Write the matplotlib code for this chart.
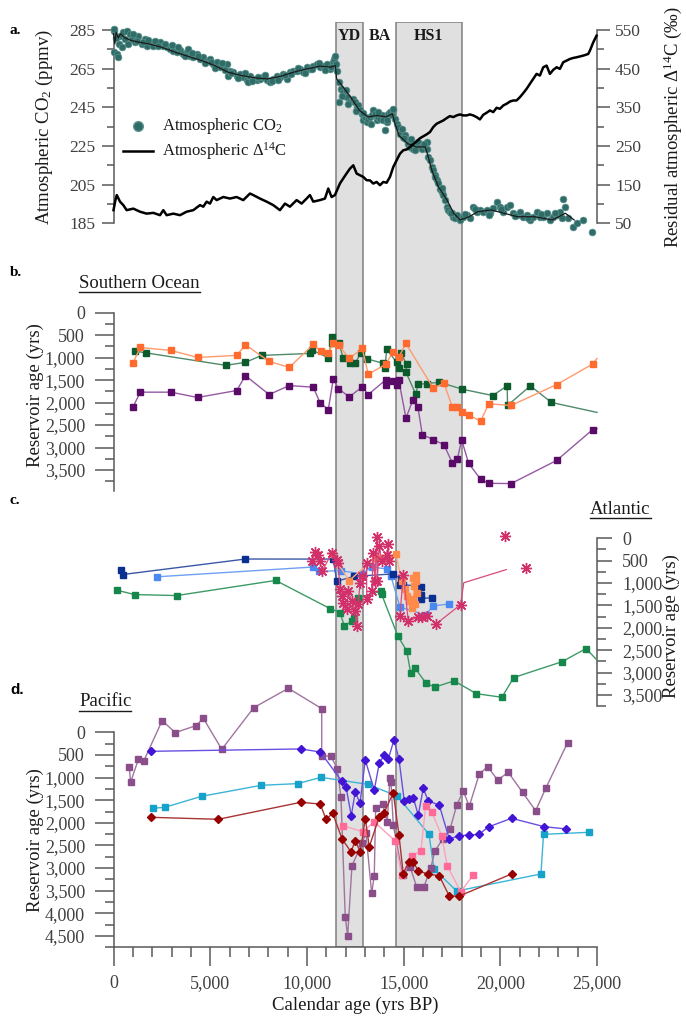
import matplotlib
matplotlib.use('Agg')
import matplotlib.pyplot as plt
from matplotlib.lines import Line2D
from matplotlib.ticker import FixedLocator, FuncFormatter

plt.rcParams['font.family'] = ['Liberation Serif', 'DejaVu Serif']
plt.rcParams['mathtext.fontset'] = 'custom'
plt.rcParams['mathtext.rm'] = 'Liberation Serif'
plt.rcParams['mathtext.it'] = 'Liberation Serif:italic'
plt.rcParams['mathtext.bf'] = 'Liberation Serif:bold'

# ---------------- DATA ----------------
# Panel a: atmospheric CO2 (ppmv) scatter
co2_x = [0, 26, 164, 250, 336, 508, 681, 853, 939, 1111, 1284, 1456, 1628, 1714, 1887, 2059, 2231, 2404,
         2576, 2748, 2920, 3093, 3265, 3437, 3610, 3782, 3868, 3954, 4127, 4299, 4471, 4643, 4816, 4988,
         5160, 5333, 5505, 5677, 5850, 5936, 6022, 6194, 6366, 6539, 6711, 6883, 6969, 7056, 7228, 7400,
         7573, 7745, 7917, 8089, 8262, 8434, 8606, 8779, 8951, 9123, 9296, 9468, 9640, 9812, 9985, 10157,
         10329, 10502, 10674, 10846, 11019, 11191, 11329, 11398, 11501, 11570, 11639, 11673, 11742, 11880,
         11966, 12087, 12225, 12313, 12399, 12485, 12572, 12658, 12744, 12830, 12916, 13002, 13089, 13175,
         13261, 13347, 13433, 13519, 13605, 13692, 13778, 13864, 13950, 14036, 14122, 14208, 14295, 14381,
         14467, 14553, 14639, 14725, 14812, 14898, 14984, 15070, 15156, 15242, 15328, 15415, 15501, 15587,
         15673, 15759, 15845, 15931, 16018, 16104, 16190, 16224, 16276, 16362, 16448, 16535, 16621, 16707,
         16793, 16879, 16965, 17051, 17138, 17224, 17310, 17396, 17482, 17568, 17654, 17741, 17913, 18085,
         18258, 18430, 18602, 18775, 18947, 19119, 19291, 19464, 19636, 19808, 19980, 20153, 20325, 20497,
         20670, 20842, 21014, 21187, 21359, 21531, 21703, 21876, 22048, 22220, 22393, 22565, 22737, 22909,
         23082, 23254, 23340, 23513, 23771, 23943, 24288, 24729,
         50, 120, 300, 420, 600, 760, 1000, 1200, 1550, 1800, 2150, 2300, 2650, 3000, 3350, 3700, 4050, 4380,
         4750, 5050, 5250, 5600, 5780, 6100, 6450, 6800, 7150, 7480, 7830, 8180, 8520, 8850, 9200, 9550,
         9900, 10250, 10600, 10950, 11250, 11450, 11800, 12000, 12150, 12520, 12900, 13300, 13700, 14150,
         14450, 15000, 15380, 15600, 16050, 16600, 17000, 17450, 18150, 18700, 19400, 20050, 20750, 21450,
         22100, 22850, 23200]
co2_y = [284.6, 273.5, 272.6, 270.9, 282.1, 283.8, 284.6, 282.9, 280.3, 278.6, 282.1, 277.8, 280.3, 276.9,
         278.6, 276.9, 277.8, 278.6, 276.9, 276.0, 275.2, 274.3, 273.5, 274.7, 272.6, 273.5, 275.2, 271.7,
         270.9, 272.6, 270.0, 270.9, 269.2, 270.0, 267.5, 268.3, 265.7, 266.6, 267.5, 261.4, 264.0, 263.2,
         261.4, 262.3, 260.6, 258.9, 258.0, 261.4, 259.7, 258.9, 259.7, 260.6, 258.9, 258.0, 259.7, 261.4,
         260.6, 262.3, 259.7, 263.2, 264.0, 264.0, 264.9, 263.2, 265.7, 264.9, 266.6, 267.5, 265.7, 266.6,
         267.5, 264.9, 268.3, 270.0, 267.5, 264.0, 258.0, 247.7, 254.6, 252.8, 251.1, 250.3, 248.5, 248.5,
         249.4, 247.7, 245.1, 246.0, 243.4, 241.7, 238.2, 239.9, 237.4, 239.1, 239.9, 240.8, 243.4, 241.7,
         238.2, 239.9, 239.1, 240.8, 238.2, 233.1, 237.4, 241.7, 242.5, 240.8, 243.4, 239.1, 236.5, 234.8,
         231.4, 233.9, 229.6, 230.5, 227.9, 226.2, 224.5, 226.2, 223.6, 225.3, 224.5, 227.1, 224.5, 223.6,
         225.3, 226.2, 227.1, 223.6, 219.3, 217.6, 214.2, 212.4, 209.9, 207.3, 205.6, 203.0, 201.3, 199.5,
         197.0, 193.5, 191.8, 191.0, 190.1, 188.4, 187.5, 189.2, 186.7, 188.4, 189.2, 187.5, 193.5, 191.0,
         191.8, 191.0, 191.8, 190.1, 192.7, 196.1, 193.5, 191.0, 193.5, 194.4, 190.1, 189.2, 191.0, 188.4,
         189.2, 186.7, 188.4, 191.0, 188.4, 188.4, 190.1, 186.7, 188.4, 189.2, 191.0, 197.8, 193.5, 187.5,
         183.2, 184.9, 186.7, 180.5,
         285.5, 281.0, 278.0, 276.0, 280.5, 278.0, 283.0, 279.5, 279.0, 280.0, 279.5, 276.5, 278.0, 277.0,
         276.0, 271.5, 273.0, 271.5, 268.0, 268.5, 265.5, 268.0, 264.5, 262.5, 260.0, 262.5, 258.5, 260.5,
         261.5, 258.5, 259.0, 261.5, 262.0, 265.5, 262.5, 265.0, 268.0, 264.5, 266.0, 271.5, 251.0, 254.0,
         246.5, 243.0, 242.0, 236.5, 242.5, 238.5, 244.0, 229.0, 228.5, 223.0, 226.0, 209.0, 203.5, 190.5,
         190.0, 192.5, 189.5, 192.5, 189.0, 187.5, 190.0, 190.5, 188.0]

# Panel a: CO2 running line
co2_line_x = [0, 68, 136, 249, 363, 589, 929, 1383, 1836, 2516, 3196, 3876, 4556, 5236, 5916, 6596, 7276,
              7956, 8636, 9316, 9996, 10676, 11242, 11469, 11537, 11809, 12262, 12715, 13169, 13622, 14076,
              14416, 14529, 14756, 15209, 15663, 16116, 16229, 16456, 16796, 17249, 17589, 17929, 18382,
              18836, 19516, 20196, 20876, 21782, 22689, 23369, 23822]
co2_line_y = [283.0, 277.8, 283.8, 281.0, 283.0, 281.0, 279.5, 278.6, 277.8, 276.0, 273.5, 271.3, 269.2,
              266.6, 263.2, 261.5, 260.3, 259.7, 261.0, 263.2, 264.9, 266.3, 265.8, 266.6, 259.7, 256.3,
              250.3, 243.4, 240.0, 240.8, 240.0, 241.7, 237.4, 230.5, 226.2, 224.5, 224.5, 221.0, 212.5,
              203.9, 197.0, 190.2, 186.7, 188.4, 191.0, 191.9, 190.2, 188.4, 188.4, 186.7, 190.2, 186.7]

# Panel a: residual atmospheric D14C (permil)
d14c_x = [0, 100, 170, 336, 508, 681, 1025, 1370, 1714, 2059, 2404, 2576, 2748, 3093, 3437, 3782, 4127,
          4471, 4643, 4816, 4988, 5160, 5333, 5677, 6022, 6366, 6711, 7056, 7228, 7573, 7917, 8262, 8606,
          8865, 9123, 9468, 9727, 9985, 10157, 10329, 10674, 10933, 11105, 11277, 11449, 11708, 12052,
          12227, 12399, 12572, 12744, 12916, 13089, 13261, 13433, 13605, 13778, 13950, 14122, 14295, 14467,
          14639, 14812, 14984, 15156, 15328, 15501, 15673, 15845, 16018, 16190, 16362, 16535, 16707, 16879,
          17051, 17224, 17396, 17568, 17741, 17913, 18085, 18258, 18430, 18602, 18775, 18947, 19119, 19291,
          19464, 19636, 19808, 19980, 20153, 20325, 20497, 20670, 20842, 21014, 21187, 21359, 21531, 21703,
          21876, 22048, 22220, 22393, 22565, 22737, 22909, 23082, 23254, 23426, 23599, 23771, 23943, 24288,
          24546, 24633, 24805, 24977]
d14c_y = [84, 110, 123, 106, 97, 84, 88, 80, 75, 77, 71, 84, 71, 75, 71, 80, 84, 97, 93, 106, 101, 118, 110,
          118, 114, 118, 110, 127, 123, 114, 106, 97, 84, 101, 93, 110, 101, 114, 123, 106, 110, 114, 140, 118,
          123, 153, 179, 191.5, 200, 178.6, 174.3, 170, 161.4, 161, 152.8, 157, 148.5, 157, 155, 170, 195.8,
          213, 230, 239, 241, 247, 255, 262, 270, 275, 280, 286, 299, 307.5, 311.8, 316, 322, 327.3, 324.7,
          329, 331.6, 329, 329, 331.6, 329, 324.7, 318.7, 330.7, 335.9, 341.9, 337.6, 348.8, 346.2, 354.8,
          359.1, 365, 367.7, 367.7, 376.3, 386.6, 397.8, 410.7, 423.6, 436.5, 432.2, 453.6, 458, 436.5, 446.8,
          453.6, 449.4, 466.6, 470.8, 475.1, 477.7, 479.4, 483.7, 488, 496.6, 518, 535.3]

# Panel b: Southern Ocean reservoir ages (yrs)
so_orange_x = [997, 1383, 2969, 4352, 6369, 6822, 8046, 9089, 10330, 10713, 11105, 11364, 11650, 12191,
               12863, 13173, 14072, 14434, 14745, 15122, 16534, 17087, 17516, 17775, 18002, 18364, 18984,
               19398, 20557, 22916, 24774, 25000]
so_orange_y = [1127, 774, 840, 995, 950, 715, 1083, 1216, 707, 855, 893, 685, 729, 1017, 796, 1370, 1149,
               884, 995, 685, 1680, 1569, 2093, 2093, 2203, 2270, 2418, 2027, 2063, 1599, 1142, 1017]
so_green_x = [1111, 1655, 5802, 6822, 7661, 10175, 10278, 11105, 11312, 11312, 11658, 11881, 12227, 12501,
              12780, 13090, 13948, 14036, 14124, 14641, 14745, 14864, 15158, 15122, 15624, 15758, 16192,
              16844, 18033, 19605, 20354, 20376, 21555, 22643, 25000]
so_green_y = [855, 892, 1171, 1105, 950, 906, 833, 1003, 539, 685, 672, 1017, 1114, 1127, 893, 1025, 1127,
              1238, 811, 1105, 1238, 906, 1149, 1326, 1806, 1591, 1578, 1547, 1702, 1843, 1628, 2063, 1628,
              1997, 2218]
so_purple_x = [997, 1383, 2969, 4352, 6369, 6822, 8046, 9089, 10330, 10676, 11105, 11364, 11622, 12191,
               12863, 13173, 14072, 14072, 14434, 14641, 14745, 15122, 15484, 15743, 15966, 16534, 17087,
               17516, 17775, 18002, 18364, 18984, 19398, 20557, 22916, 24774, 25000]
so_purple_y = [2107, 1768, 1768, 1886, 1731, 1400, 1820, 1621, 1658, 1998, 2159, 1474, 1688, 1872, 1651,
               1821, 1496, 1607, 1511, 1614, 1489, 2343, 1938, 2108, 2712, 2822, 2940, 3337, 3264, 2829,
               3353, 3706, 3795, 3802, 3286, 2601, 2580]

# Panel c: Atlantic reservoir ages (yrs)
at_green_x = [204, 1088, 3264, 8386, 11193, 11710, 11933, 12315, 12450, 12625, 13830, 13866, 14693, 15164,
              15368, 15594, 16161, 16614, 17611, 18768, 20082, 20694, 23188, 24434, 25000]
at_green_y = [1162, 1257, 1279, 941, 1569, 1658, 1953, 1856, 1783, 1326, 1180, 1253, 2175, 2515, 3015, 2904,
              3235, 3324, 3184, 3471, 3551, 3110, 2757, 2463, 2720]
at_navy_x = [363, 476, 6822, 11364, 11540, 12450, 14466, 14864, 14812, 14983, 15898, 15898, 15898, 16451]
at_navy_y = [713, 809, 463, 464, 959, 849, 796, 906, 1054, 1032, 1083, 1275, 1348, 1326]
at_lblue_x = [2244, 10330, 10640, 11762, 12832, 13349, 14124, 14347, 14812, 16156, 16503, 17361]
at_lblue_y = [860, 641, 738, 723, 796, 641, 685, 849, 1534, 1717, 1511, 1467]
at_orange_x = [11281, 12191, 13520, 13866, 14259, 14605, 14900, 15071, 15158, 15329, 15417, 15500, 15537,
               15500, 15588, 15640, 15640, 15674]
at_orange_y = [354, 944, 429, 429, 429, 354, 959, 1143, 1290, 1401, 1547, 1364, 1070, 884, 1474, 811, 959,
               1216]
at_star1_x = [10245, 10418, 10590, 10676, 10790, 11281, 11540, 11622, 11710, 11798, 11881, 12056, 12139,
              12315, 12486, 12573, 12656, 12744, 12832, 13090, 13090, 13349, 13432, 13520, 13607, 13638,
              13742, 13866, 14124, 14207, 14259]
at_star1_y = [517, 310, 369, 517, 735, 332, 480, 553, 1143, 1290, 1437, 1585, 1180, 1401, 1622, 1953, 1474,
              995, 849, 553, 1364, 1180, 332, 959, -35, 959, 170, 517, 369, 133, 517]
at_star2_x = [14812, 14983, 15241, 15758, 15934, 16192, 16673, 17950, 18110, 20309]
at_star2_y = [1732, 811, 1843, 1768, 1768, 1732, 1916, 1481, 993, 699]
at_star_iso_x = [20264, 21329]
at_star_iso_y = [-51, 662]

# Panel d: Pacific reservoir ages (yrs)
pa_mauve_x = [816, 884, 1292, 1564, 2516, 3196, 4262, 4646, 5598, 7253, 9043, 10766, 10766, 11245, 11571,
              11762, 11984, 12108, 12330, 12848, 13054, 13349, 13483, 13556, 13918, 14156, 14295, 14347,
              14466, 14952, 15329, 15676, 16053, 16399, 16622, 17020, 17398, 17744, 18085, 18395, 18912,
              19346, 19863, 20412, 21148, 21828, 22349, 23482]
pa_mauve_y = [773, 1105, 589, 633, -258, 7, -147, -309, 376, -545, -972, -523, 523, 524, 811, 1437, 4089,
              4495, 2948, 2453, 2232, 3558, 3169, 1680, 1591, 1976, 1017, 1105, 2049, 3154, 2970, 3412, 3412,
              3006, 2617, 2365, 2144, 1613, 1297, 1635, 922, 760, 1054, 884, 1326, 1731, 1237, 228]
pa_violet_x = [1927, 9679, 10693, 11798, 12020, 12294, 12501, 12744, 13018, 13483, 13742, 13985, 14207,
               14502, 14760, 15034, 15277, 15500, 15758, 16017, 16276, 16844, 17361, 17878, 18395, 18881,
               19413, 20580, 22258, 23414]
pa_violet_y = [420, 368, 435, 1076, 1202, 1843, 1313, 1569, 612, 1275, 685, 508, 590, 170, 590, 1518, 1474,
               1445, 1828, 1238, 1518, 1607, 2358, 2285, 2270, 2255, 2086, 1900, 2084, 2136]
pa_cyan_x = [2017, 2652, 4556, 7638, 9520, 10728, 13142, 14672, 16311, 16570, 17744, 22100, 22236, 24570]
pa_cyan_y = [1679, 1657, 1414, 1171, 1134, 995, 1149, 1408, 2254, 3021, 3507, 3130, 2254, 2210]
pa_red_x = [1927, 5417, 9679, 10693, 10987, 11332, 11829, 12278, 12501, 12760, 13018, 13225, 13742, 13985,
            14466, 14760, 14983, 15262, 15500, 15758, 16276, 16844, 17361, 17878, 20580]
pa_red_y = [1878, 1922, 1547, 1585, 1923, 1790, 2365, 2639, 2396, 2639, 1909, 2528, 1865, 1783, 1335, 2270,
            3132, 2860, 2860, 3065, 3132, 3169, 3618, 3618, 3130]
pa_pink_x = [11881, 12884, 13483, 14553, 14900, 15417, 15898, 16141, 16467, 16968, 17258, 17950, 18602]
pa_pink_y = [2064, 2197, 1976, 2396, 3154, 2734, 2617, 1629, 1768, 2285, 2948, 3523, 3154]

# climate intervals (yrs BP)
band_start = [11500, 14600]
band_end = [12900, 18000]
band_label_names = ['YD', 'BA', 'HS1']
band_label_x = [12200, 13750, 16300]

# ---------------- FIGURE ----------------
W, H = 686, 1017
fig = plt.figure(figsize=(W / 100, H / 100), dpi=100)


def px_axes(l, t, r, b):
    return fig.add_axes([l / W, 1 - b / H, (r - l) / W, (b - t) / H])


def fx(px):
    return px / W


def fy(py):
    return 1 - py / H


XL, XR = 113.5, 597.0
AX_COL = '#595959'
LB_COL = '#404040'
comma = FuncFormatter(lambda v, p: f'{int(round(v)):,}')

# background bands
bg = px_axes(XL, 21.7, XR, 947.3)
bg.set_xlim(0, 25000)
bg.set_ylim(0, 1)
bg.axis('off')
for s, e in zip(band_start, band_end):
    bg.axvspan(s, e, facecolor='#e0e0e0', edgecolor='#7f7f7f', lw=1.1)
for name, xx in zip(band_label_names, band_label_x):
    bg.text(xx, 1 - (36 - 21.7) / (947.3 - 21.7), name, ha='center', va='center',
            fontsize=11.5, fontweight='bold', color='#1a1a1a')


def style_y(ax, side, majors, minors, labelsize=13, maj_len=13.5, min_len=6.5, pad=7):
    for sp in ['top', 'bottom', 'left', 'right']:
        ax.spines[sp].set_visible(False)
    ax.spines[side].set_visible(True)
    ax.spines[side].set_color(AX_COL)
    ax.spines[side].set_linewidth(1.1)
    if side == 'right':
        ax.yaxis.tick_right()
        ax.yaxis.set_label_position('right')
    else:
        ax.yaxis.tick_left()
    ax.yaxis.set_major_locator(FixedLocator(majors))
    ax.yaxis.set_minor_locator(FixedLocator(minors))
    ax.yaxis.set_major_formatter(comma)
    ax.tick_params(axis='y', which='major', direction='out', length=maj_len, width=1.1, color=AX_COL,
                   labelsize=labelsize, labelcolor=LB_COL, pad=pad)
    ax.tick_params(axis='y', which='minor', direction='out', length=min_len, width=1.1, color=AX_COL)
    ax.patch.set_visible(False)
    ax.set_xlim(0, 25000)


# ---- Panel a ----
ax_a = px_axes(XL, 30, XR, 223.3)
ax_a.set_ylim(185, 285)
style_y(ax_a, 'left', list(range(185, 286, 20)), list(range(195, 285, 20)),
        labelsize=12.5, maj_len=9, min_len=5, pad=4)
ax_a.set_xticks([])
ax_a.scatter(co2_x, co2_y, s=24, color='#2f6b67', edgecolors='#5d938e', linewidths=0.5,
             clip_on=False, zorder=3)
ax_a.plot(co2_line_x, co2_line_y, color='#1a1a1a', lw=0.9, clip_on=False, zorder=4)
ax_a.set_ylabel('Atmospheric CO$_2$ (ppmv)', fontsize=13.5, color='#1a1a1a')
ax_a.yaxis.set_label_coords((44 - XL) / (XR - XL), 0.5)
ax_a.yaxis.label.set_va('center')

ax_a2 = ax_a.twinx()
ax_a2.set_ylim(50, 550)
style_y(ax_a2, 'right', list(range(50, 551, 100)), list(range(100, 550, 100)),
        labelsize=12.5, maj_len=9, min_len=5, pad=4)
ax_a2.set_xticks([])
ax_a2.plot(d14c_x, d14c_y, color='black', lw=1.8, clip_on=False, zorder=5)
ax_a2.set_ylabel('Residual atmospheric Δ$^{14}$C (‰)', fontsize=13.5, color='#1a1a1a', rotation=90)
ax_a2.yaxis.set_label_coords((673 - XL) / (XR - XL), 0.5)
ax_a2.yaxis.label.set_va('center')

# legend of panel a
fig.add_artist(Line2D([fx(138.3)], [fy(126)], marker='o', ms=7, color='#2f6b67',
                      markeredgecolor='#5d938e', ls='none', transform=fig.transFigure))
fig.add_artist(Line2D([fx(123), fx(153)], [fy(151), fy(151)], lw=1.8, color='black',
                      transform=fig.transFigure))
fig.text(fx(161.7), fy(126), 'Atmospheric CO$_2$', fontsize=12, va='center', color='#1a1a1a')
fig.text(fx(161.7), fy(151), 'Atmospheric Δ$^{14}$C', fontsize=12, va='center', color='#1a1a1a')


def series(ax, x, y, mcol, lcol, marker='s', ms=4.2, lw=1.0, mark_last=True):
    n = len(x)
    me = None if mark_last else list(range(n - 1))
    ax.plot(x, y, color=lcol, lw=lw, marker=marker, ms=ms, mfc=mcol, mec=mcol,
            markevery=me, clip_on=False, zorder=4)


# ---- Panel b ----
ax_b = px_axes(XL, 312.7, XR, 490.7)
ax_b.set_ylim(3960, 0)
style_y(ax_b, 'left', list(range(0, 3501, 500)), list(range(250, 3800, 500)))
ax_b.set_xticks([])
series(ax_b, so_green_x, so_green_y, '#0b5b2c', '#4e8a6b', mark_last=False)
series(ax_b, so_orange_x, so_orange_y, '#ff6a2e', '#ff9a6e', mark_last=False)
series(ax_b, so_purple_x, so_purple_y, '#5a0b68', '#9559a3', mark_last=False)
ax_b.set_ylabel('Reservoir age (yrs)', fontsize=13.5, color='#1a1a1a')
ax_b.yaxis.set_label_coords((35 - XL) / (XR - XL), 0.535)
ax_b.yaxis.label.set_va('center')

# ---- Panel c ----
ax_c = px_axes(XL, 538.3, XR, 706.2)
ax_c.set_ylim(3750, 0)
style_y(ax_c, 'right', list(range(0, 3501, 500)), list(range(250, 3800, 500)), maj_len=11)
ax_c.set_xticks([])
series(ax_c, at_green_x, at_green_y, '#15874a', '#3c9a66', mark_last=False)
series(ax_c, at_lblue_x, at_lblue_y, '#4a88f2', '#6fa0f2')
series(ax_c, at_navy_x, at_navy_y, '#0a2f91', '#3b58a8')
series(ax_c, at_orange_x, at_orange_y, '#ff8a4a', '#ffac85')
star = (8, 2, 0)
ax_c.plot(at_star1_x, at_star1_y, color='#d94a7c', lw=0.9, marker=star, ms=8, mec='#d2306a',
          mew=1.0, clip_on=False, zorder=5)
ax_c.plot(at_star2_x, at_star2_y, color='#d94a7c', lw=0.9, marker=star, ms=8, mec='#d2306a',
          mew=1.0, markevery=list(range(len(at_star2_x) - 2)), clip_on=False, zorder=5)
ax_c.plot(at_star_iso_x, at_star_iso_y, ls='none', marker=star, ms=8, mec='#d2306a', mew=1.0,
          clip_on=False, zorder=5)
ax_c.set_ylabel('Reservoir age (yrs)', fontsize=13.5, color='#1a1a1a', rotation=90)
ax_c.yaxis.set_label_coords((671 - XL) / (XR - XL), 0.48)
ax_c.yaxis.label.set_va('center')

# ---- Panel d ----
ax_d = px_axes(XL, 732.3, XR, 947.3)
ax_d.set_ylim(4750, 0)
style_y(ax_d, 'left', list(range(0, 4501, 500)), list(range(250, 4800, 500)))
ax_d.spines['bottom'].set_visible(True)
ax_d.spines['bottom'].set_color(AX_COL)
ax_d.spines['bottom'].set_linewidth(1.1)
ax_d.xaxis.set_major_locator(FixedLocator(list(range(0, 25001, 5000))))
ax_d.xaxis.set_minor_locator(FixedLocator([v for v in range(1000, 25000, 1000) if v % 5000]))
ax_d.xaxis.set_major_formatter(comma)
ax_d.tick_params(axis='x', which='major', direction='out', length=14, width=1.1, color=AX_COL,
                 labelsize=13, labelcolor=LB_COL, pad=6)
ax_d.tick_params(axis='x', which='minor', direction='out', length=7, width=1.1, color=AX_COL)
series(ax_d, pa_cyan_x, pa_cyan_y, '#17a2c9', '#3bb4d6')
series(ax_d, pa_mauve_x, pa_mauve_y, '#8a4e8a', '#9f759f')
series(ax_d, pa_violet_x, pa_violet_y, '#4214d4', '#6a4ee2', marker='D', ms=4.5)
series(ax_d, pa_pink_x, pa_pink_y, '#ff6a98', '#ff9fbe')
series(ax_d, pa_red_x, pa_red_y, '#980000', '#a83434', marker='D', ms=4.5)
ax_d.set_ylabel('Reservoir age (yrs)', fontsize=13.5, color='#1a1a1a')
ax_d.yaxis.set_label_coords((35 - XL) / (XR - XL), 0.5)
ax_d.yaxis.label.set_va('center')
ax_d.set_xlabel('Calendar age (yrs BP)', fontsize=13.5, color='#1a1a1a')
ax_d.xaxis.set_label_coords(0.5, (947.3 - 1005) / (947.3 - 732.3))
ax_d.xaxis.label.set_va('center')

# panel letters
for lab, py, fam in [('a.', 31, None), ('b.', 273, None), ('c.', 501, None), ('d.', 690, 'Liberation Sans')]:
    kw = {'family': fam} if fam else {}
    fig.text(fx(10), fy(py), lab, fontsize=11, fontweight='bold', va='center', ha='left', **kw)

# underlined region titles
titles = []
for txt, lx, cy in [('Southern Ocean', 79, 283), ('Atlantic', 590, 509), ('Pacific', 79, 702)]:
    t = fig.text(fx(lx), fy(cy), txt, fontsize=13.5, va='center', ha='left', color='#1a1a1a')
    titles.append((t, cy))
fig.canvas.draw()
rend = fig.canvas.get_renderer()
for t, cy in titles:
    bb = t.get_window_extent(rend)
    fig.add_artist(Line2D([bb.x0 / W, bb.x1 / W], [fy(cy + 8.5), fy(cy + 8.5)], lw=1.0,
                          color='#1a1a1a', transform=fig.transFigure))

fig.savefig('out.png', dpi=100)
